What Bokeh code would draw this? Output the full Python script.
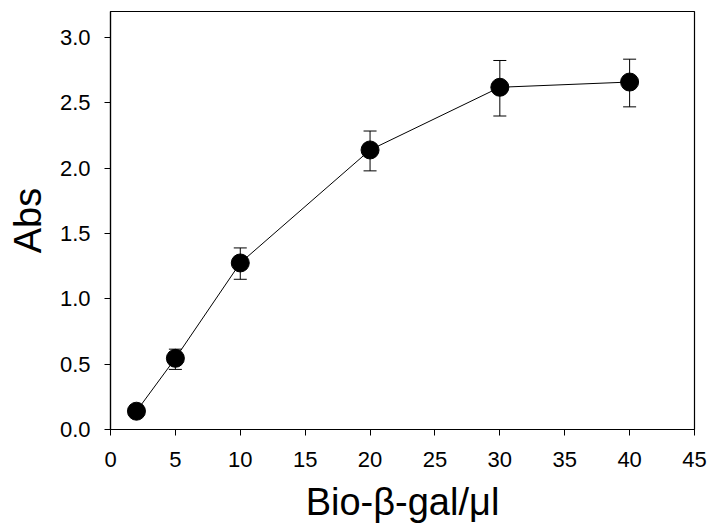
from bokeh.plotting import figure
from bokeh.models import ColumnDataSource, Whisker, TeeHead, Range1d, FixedTicker
from bokeh.embed import file_html
from bokeh.resources import INLINE

conc = [2, 5, 10, 20, 30, 40]
absorb = [0.14, 0.545, 1.275, 2.14, 2.62, 2.66]
err_low = [0.12, 0.46, 1.15, 1.98, 2.40, 2.47]
err_high = [0.16, 0.615, 1.39, 2.285, 2.825, 2.835]
x_ticks = [0, 5, 10, 15, 20, 25, 30, 35, 40, 45]
y_ticks = [0.0, 0.5, 1.0, 1.5, 2.0, 2.5, 3.0]
y_tick_labels = ["0.0", "0.5", "1.0", "1.5", "2.0", "2.5", "3.0"]

src = ColumnDataSource(dict(x=conc, y=absorb, lo=err_low, hi=err_high))

p = figure(width=710, height=531, output_backend="svg", toolbar_location=None, title=None,
           x_range=Range1d(0, 45), y_range=Range1d(0, 3.2),
           min_border_left=110, min_border_right=16, min_border_top=11, min_border_bottom=102)
p.xgrid.visible = False
p.ygrid.visible = False
p.outline_line_color = "black"
p.outline_line_width = 1.2
p.background_fill_color = "white"
p.border_fill_color = "white"

font = "Liberation Sans"
for ax in (p.xaxis[0], p.yaxis[0]):
    ax.axis_line_color = "black"
    ax.axis_line_width = 1.2
    ax.major_tick_line_color = "black"
    ax.major_tick_in = 0
    ax.major_tick_out = 6
    ax.minor_tick_line_color = None
    ax.major_label_text_font = font
    ax.major_label_text_font_size = "22px"
    ax.major_label_text_color = "black"
    ax.axis_label_text_font = font
    ax.axis_label_text_font_size = "38px"
    ax.axis_label_text_font_style = "normal"
    ax.axis_label_text_color = "black"

p.xaxis.ticker = FixedTicker(ticks=x_ticks)
p.yaxis.ticker = FixedTicker(ticks=y_ticks)
p.yaxis.major_label_overrides = {v: s for v, s in zip(y_ticks, y_tick_labels)}
p.xaxis.major_label_standoff = 16
p.yaxis.major_label_standoff = 14
p.xaxis.axis_label = "Bio-β-gal/μl"
p.yaxis.axis_label = "Abs"
p.xaxis.axis_label_standoff = 11
p.yaxis.axis_label_standoff = 8

w = Whisker(source=src, base="x", lower="lo", upper="hi", line_color="black", line_width=1,
            upper_head=TeeHead(size=13, line_color="black", line_width=1),
            lower_head=TeeHead(size=13, line_color="black", line_width=1))
p.add_layout(w)
p.line("x", "y", source=src, line_color="black", line_width=1)
p.scatter("x", "y", source=src, size=18, fill_color="black", line_color="black")

open("out.html", "w").write(file_html(p, INLINE))
